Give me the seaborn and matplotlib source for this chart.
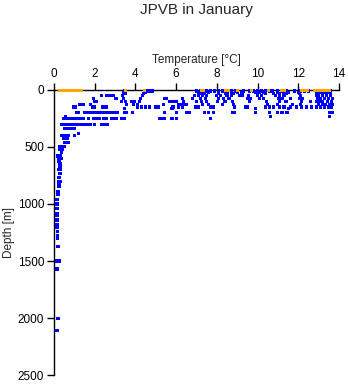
# JPVB in January - temperature profile
import pandas as pd
import matplotlib
matplotlib.use("Agg")
import matplotlib.pyplot as plt
import seaborn as sns

# blue profile points, temperatures [°C] grouped by depth [m]
t_10 = [3.45, 4.6, 4.75, 4.85, 7.0, 7.2, 7.35, 7.5, 7.7, 7.9, 8.1, 8.3, 8.5, 8.7, 8.9, 9.3, 9.6,
        9.8, 10.0, 10.2, 10.4, 10.6, 10.75, 11.0, 11.2, 11.4, 11.8, 12.1, 12.3, 12.5, 12.9, 13.0,
        13.1, 13.2, 13.3, 13.4, 13.5, 13.6]
t_20 = [3.4, 4.5, 7.1, 7.3, 7.6, 8.5, 8.7, 9.0, 9.2, 9.9, 10.1, 10.3, 11.0, 11.3, 11.5, 12.0,
        12.9, 13.1, 13.3, 13.5]
t_30 = [3.5, 4.4, 7.15, 7.4, 8.1, 8.45, 8.8, 9.25, 10.0, 10.4, 10.8, 11.1, 11.4, 12.05, 12.95,
        13.2, 13.4, 13.6]
t_50 = [2.35, 2.6, 2.75, 2.9, 3.35, 4.35, 6.9, 7.1, 7.3, 7.5, 8.0, 8.2, 8.5, 8.7, 9.1, 9.25,
        9.55, 10.0, 10.2, 10.9, 11.1, 11.3, 12.1, 12.9, 13.0, 13.2, 13.4, 13.6]
t_75 = [1.95, 3.05, 3.4, 4.25, 5.45, 5.55, 6.3, 6.8, 7.2, 7.45, 8.1, 8.35, 8.6, 9.5, 9.65, 10.1,
        10.3, 11.05, 11.2, 11.6, 12.05, 12.2, 12.95, 13.1, 13.3, 13.5, 13.7]
t_100 = [2.0, 2.1, 3.3, 3.5, 3.8, 3.95, 4.2, 5.7, 5.85, 6.0, 6.35, 7.0, 7.25, 7.5, 8.05, 8.4,
         8.75, 9.6, 10.45, 11.1, 11.4, 12.15, 12.6, 12.9, 13.05, 13.2, 13.45, 13.65]
t_125 = [1.25, 1.35, 1.45, 1.8, 3.55, 3.9, 4.1, 5.4, 6.1, 6.25, 6.4, 6.5, 7.3, 7.6, 8.3, 8.8,
         10.5, 11.0, 11.7, 12.1, 13.0, 13.2, 13.35, 13.55, 13.7]
t_150 = [0.95, 1.05, 1.9, 2.0, 2.4, 2.5, 2.6, 4.1, 4.3, 4.5, 4.7, 5.0, 5.15, 5.85, 6.1, 6.3,
         6.95, 7.1, 7.7, 7.85, 8.85, 9.4, 9.5, 10.4, 10.6, 10.8, 11.1, 11.3, 11.6, 11.9, 12.15,
         12.4, 12.65, 12.9, 13.1, 13.3, 13.5, 13.65]
t_165 = [3.45, 5.8, 9.9, 11.5]
t_200 = [1.1, 1.2, 1.5, 1.65, 1.8, 1.9, 2.05, 2.2, 2.3, 2.45, 2.6, 2.7, 2.85, 3.0, 3.1,
         3.45, 3.55, 3.85, 5.45, 6.0, 6.5, 6.65, 7.4, 7.6, 7.85, 8.75, 8.85, 9.9,
         10.6, 11.0, 11.2, 11.45, 13.55, 13.7]
t_230 = [0.55, 10.65, 13.55]
t_250 = [0.45, 0.6, 0.75, 0.9, 1.05, 1.15, 1.3, 1.45, 1.7, 1.95, 2.1, 2.25, 2.45,
         2.6, 2.85, 3.05, 3.3, 3.45, 5.2, 5.35, 5.45, 5.8, 6.0, 7.7]
t_300 = [0.35, 0.45, 0.55, 0.7, 0.85, 0.95, 1.05, 1.2, 1.35, 1.5, 1.65, 1.8, 2.0,
         2.35, 2.5, 2.65]
t_340 = [0.5, 0.6, 0.7, 0.85, 1.0]
t_380 = [1.2]
t_400 = [0.35, 0.45, 0.55, 0.7, 1.0]
t_430 = [0.45, 0.55, 0.65]
t_460 = [0.5, 0.6, 0.7]

# deeper single points
deep_depth = [500, 500, 500, 525, 525, 550, 580, 580, 600, 600, 630, 650, 680, 700, 700, 730,
              770, 800, 800, 830, 850, 890, 920, 960, 1000, 1040, 1080, 1100, 1140, 1180, 1210,
              1245, 1275, 1300, 1375, 1500, 1500, 1570, 2000, 2105]
deep_temp = [0.3, 0.4, 0.5, 0.3, 0.4, 0.35, 0.2, 0.3, 0.25, 0.35, 0.25, 0.3, 0.3, 0.3, 0.25,
             0.3, 0.25, 0.22, 0.3, 0.25, 0.25, 0.2, 0.2, 0.15, 0.15, 0.15, 0.15, 0.15, 0.15,
             0.15, 0.15, 0.18, 0.18, 0.18, 0.2, 0.15, 0.25, 0.15, 0.2, 0.15]

# surface points (orange)
surf_temp = [0.3, 0.4, 0.5, 0.65, 0.75, 0.85, 0.95, 1.05, 1.15, 1.25, 1.35, 3.5, 4.45, 7.25,
             7.35, 8.45, 8.55, 9.0, 9.7, 10.55, 11.2, 11.3, 12.15, 12.3, 12.45, 12.8, 12.95,
             13.1, 13.25, 13.4, 13.55]
surf_depth = 8

rows = [(10, t_10), (20, t_20), (30, t_30), (50, t_50), (75, t_75), (100, t_100),
        (125, t_125), (150, t_150), (165, t_165), (200, t_200), (230, t_230), (250, t_250),
        (300, t_300), (340, t_340), (380, t_380), (400, t_400), (430, t_430), (460, t_460)]

records = []
for d, temps in rows:
    for t in temps:
        records.append({"Temperature": t, "Depth": d, "kind": "profile"})
for d, t in zip(deep_depth, deep_temp):
    records.append({"Temperature": t, "Depth": d, "kind": "profile"})
for t in surf_temp:
    records.append({"Temperature": t, "Depth": surf_depth, "kind": "surface"})
df = pd.DataFrame(records)

sns.set_style("ticks")
plt.rcParams["font.family"] = ["Liberation Sans", "DejaVu Sans"]

fig = plt.figure(figsize=(3.48, 3.84), dpi=100)
ax = fig.add_axes([0.155, 0.023, 0.819, 0.743])

sns.scatterplot(data=df, x="Temperature", y="Depth", hue="kind",
                palette={"profile": "#0000ff", "surface": "#ffa500"},
                marker="s", s=5, linewidth=0, legend=False, ax=ax, clip_on=False)

ax.set_xlim(0, 14)
ax.set_ylim(2500, 0)
ax.set_xticks([0, 2, 4, 6, 8, 10, 12, 14])
ax.set_yticks([0, 500, 1000, 1500, 2000, 2500])
ax.xaxis.tick_top()
ax.xaxis.set_label_position("top")
ax.set_xlabel("Temperature [°C]", fontsize=8.5, labelpad=4)
ax.set_ylabel("Depth [m]", fontsize=8.5, labelpad=2)
ax.tick_params(direction="out", length=5, width=1, labelsize=8.5, colors="black", pad=2)
for side in ["right", "bottom"]:
    ax.spines[side].set_visible(False)
for side in ["top", "left"]:
    ax.spines[side].set_color("black")
    ax.spines[side].set_linewidth(1)
    ax.spines[side].set_zorder(0)
ax.grid(False)

fig.text(0.565, 0.975, "JPVB in January", ha="center", va="center", fontsize=11)

fig.savefig("out.png", dpi=100)
